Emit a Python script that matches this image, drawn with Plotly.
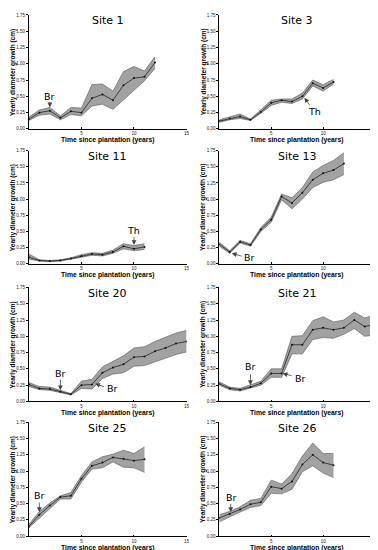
import plotly.graph_objects as go

# ---- data ----
site1_years = [0, 1, 2, 3, 4, 5, 6, 7, 8, 9, 10, 11, 12]
site1_mean = [0.15, 0.25, 0.28, 0.17, 0.27, 0.25, 0.47, 0.53, 0.44, 0.67, 0.78, 0.80, 1.02]
site1_low = [0.13, 0.21, 0.23, 0.14, 0.22, 0.20, 0.35, 0.38, 0.30, 0.45, 0.60, 0.74, 0.93]
site1_high = [0.18, 0.29, 0.33, 0.20, 0.33, 0.32, 0.68, 0.69, 0.58, 0.88, 0.96, 0.89, 1.11]

site3_years = [0, 1, 2, 3, 4, 5, 6, 7, 8, 9, 10, 11]
site3_mean = [0.12, 0.16, 0.19, 0.14, 0.26, 0.40, 0.44, 0.42, 0.50, 0.70, 0.63, 0.72]
site3_low = [0.10, 0.14, 0.16, 0.13, 0.24, 0.36, 0.41, 0.39, 0.46, 0.66, 0.58, 0.69]
site3_high = [0.14, 0.19, 0.23, 0.15, 0.29, 0.44, 0.46, 0.46, 0.55, 0.75, 0.68, 0.76]

site11_years = [0, 1, 2, 3, 4, 5, 6, 7, 8, 9, 10, 11]
site11_mean = [0.10, 0.05, 0.04, 0.05, 0.08, 0.12, 0.15, 0.14, 0.18, 0.27, 0.23, 0.26]
site11_low = [0.07, 0.04, 0.03, 0.04, 0.07, 0.10, 0.13, 0.12, 0.16, 0.23, 0.20, 0.22]
site11_high = [0.15, 0.06, 0.05, 0.06, 0.09, 0.14, 0.17, 0.16, 0.21, 0.31, 0.28, 0.31]

site13_years = [0, 1, 2, 3, 4, 5, 6, 7, 8, 9, 10, 11, 12]
site13_mean = [0.30, 0.18, 0.34, 0.29, 0.53, 0.68, 1.04, 0.94, 1.10, 1.30, 1.40, 1.45, 1.55]
site13_low = [0.27, 0.16, 0.32, 0.27, 0.50, 0.64, 0.99, 0.85, 1.00, 1.18, 1.26, 1.30, 1.38]
site13_high = [0.33, 0.20, 0.36, 0.31, 0.56, 0.72, 1.08, 1.02, 1.18, 1.42, 1.52, 1.60, 1.72]

site20_years = [0, 1, 2, 3, 4, 5, 6, 7, 8, 9, 10, 11, 12, 13, 14, 15]
site20_mean = [0.26, 0.20, 0.19, 0.15, 0.11, 0.25, 0.26, 0.44, 0.52, 0.57, 0.68, 0.69, 0.77, 0.82, 0.89, 0.92]
site20_low = [0.23, 0.18, 0.17, 0.13, 0.10, 0.20, 0.19, 0.35, 0.42, 0.44, 0.54, 0.55, 0.61, 0.66, 0.72, 0.76]
site20_high = [0.29, 0.23, 0.22, 0.17, 0.12, 0.31, 0.34, 0.53, 0.62, 0.70, 0.82, 0.84, 0.92, 0.98, 1.05, 1.09]

site21_years = [0, 1, 2, 3, 4, 5, 6, 7, 8, 9, 10, 11, 12, 13, 14, 15]
site21_mean = [0.27, 0.20, 0.18, 0.22, 0.28, 0.43, 0.43, 0.87, 0.87, 1.10, 1.13, 1.10, 1.13, 1.25, 1.15, 1.18]
site21_low = [0.25, 0.18, 0.16, 0.20, 0.25, 0.37, 0.37, 0.73, 0.73, 0.95, 0.98, 0.97, 1.03, 1.12, 1.00, 1.02]
site21_high = [0.30, 0.22, 0.20, 0.25, 0.31, 0.50, 0.50, 1.00, 1.01, 1.24, 1.30, 1.22, 1.25, 1.37, 1.28, 1.33]

site25_years = [0, 1, 2, 3, 4, 5, 6, 7, 8, 9, 10, 11]
site25_mean = [0.15, 0.33, 0.47, 0.60, 0.62, 0.88, 1.08, 1.13, 1.21, 1.19, 1.16, 1.18]
site25_low = [0.13, 0.28, 0.43, 0.57, 0.57, 0.83, 1.03, 1.05, 1.14, 1.06, 1.05, 0.98]
site25_high = [0.18, 0.38, 0.51, 0.62, 0.67, 0.93, 1.14, 1.22, 1.26, 1.32, 1.27, 1.37]

site26_years = [0, 1, 2, 3, 4, 5, 6, 7, 8, 9, 10, 11]
site26_mean = [0.28, 0.34, 0.41, 0.49, 0.52, 0.76, 0.73, 0.84, 1.10, 1.25, 1.13, 1.09]
site26_low = [0.22, 0.30, 0.37, 0.44, 0.47, 0.66, 0.65, 0.72, 0.99, 1.08, 0.97, 0.90]
site26_high = [0.33, 0.38, 0.45, 0.55, 0.58, 0.86, 0.80, 0.96, 1.23, 1.43, 1.27, 1.27]

site_names = ["Site 1", "Site 3", "Site 11", "Site 13", "Site 20", "Site 21", "Site 25", "Site 26"]
x_ticks = [5, 10, 15]
y_ticks = [0, 0.25, 0.5, 0.75, 1.0, 1.25, 1.5, 1.75]
y_tick_labels = ["0.00", "0.25", "0.50", "0.75", "1.00", "1.25", "1.50", "1.75"]
x_title = "Time since plantation (years)"
y_title = "Yearly diameter growth (cm)"

# annotations: (label, tail_x, tail_y, head_x, head_y, text_x, text_y)
site1_notes = [("Br", 2.0, 0.43, 2.0, 0.33, 2.0, 0.50)]
site3_notes = [("Th", 8.8, 0.34, 8.2, 0.48, 9.2, 0.27)]
site11_notes = [("Th", 10.0, 0.44, 10.0, 0.29, 10.0, 0.52)]
site13_notes = [("Br", 2.3, 0.11, 1.2, 0.16, 2.9, 0.09)]
site20_notes = [("Br", 3.0, 0.36, 3.0, 0.17, 3.0, 0.43),
                ("Br", 7.3, 0.22, 6.3, 0.27, 8.0, 0.20)]
site21_notes = [("Br", 3.0, 0.44, 3.0, 0.25, 3.0, 0.53),
                ("Br", 7.1, 0.39, 6.1, 0.43, 7.8, 0.35)]
site25_notes = [("Br", 1.0, 0.54, 1.0, 0.37, 1.05, 0.63)]
site26_notes = [("Br", 1.1, 0.52, 1.1, 0.37, 1.2, 0.60)]

sites = [
    (site1_years, site1_mean, site1_low, site1_high, site1_notes),
    (site3_years, site3_mean, site3_low, site3_high, site3_notes),
    (site11_years, site11_mean, site11_low, site11_high, site11_notes),
    (site13_years, site13_mean, site13_low, site13_high, site13_notes),
    (site20_years, site20_mean, site20_low, site20_high, site20_notes),
    (site21_years, site21_mean, site21_low, site21_high, site21_notes),
    (site25_years, site25_mean, site25_low, site25_high, site25_notes),
    (site26_years, site26_mean, site26_low, site26_high, site26_notes),
]

W, H = 378, 550
col_x = [(21, 180), (213, 370)]
row_y = [(5, 120), (142, 256), (280, 395), (416, 531)]

fig = go.Figure()
annotations = []
layout = {}

for i, (yrs, mean, low, high, notes) in enumerate(sites):
    r, c = divmod(i, 2)
    n = i + 1
    xa = "x" if n == 1 else f"x{n}"
    ya = "y" if n == 1 else f"y{n}"
    xk = "xaxis" if n == 1 else f"xaxis{n}"
    yk = "yaxis" if n == 1 else f"yaxis{n}"
    x0, x1 = col_x[c]
    top, bot = row_y[r]
    # band
    fig.add_trace(go.Scatter(x=yrs, y=low, mode="lines", line=dict(color="#555555", width=0.6),
                             xaxis=xa, yaxis=ya, showlegend=False, hoverinfo="skip"))
    fig.add_trace(go.Scatter(x=yrs, y=high, mode="lines", line=dict(color="#555555", width=0.6),
                             fill="tonexty", fillcolor="#a2a2a2",
                             xaxis=xa, yaxis=ya, showlegend=False, hoverinfo="skip"))
    fig.add_trace(go.Scatter(x=yrs, y=mean, mode="lines+markers",
                             line=dict(color="#111111", width=0.7),
                             marker=dict(color="#111111", size=2),
                             xaxis=xa, yaxis=ya, showlegend=False))
    layout[xk] = dict(domain=[x0 / W, x1 / W], anchor=ya, range=[0, 15],
                      tickvals=x_ticks, ticktext=[str(v) for v in x_ticks],
                      ticks="inside", ticklen=1.5, tickwidth=0.8, tickcolor="black",
                      showline=True, linecolor="black", linewidth=1,
                      showgrid=False, zeroline=False,
                      tickfont=dict(size=4.5, family="Liberation Sans", color="#222"))
    layout[yk] = dict(domain=[1 - bot / H, 1 - top / H], anchor=xa, range=[0, 1.75],
                      tickvals=y_ticks, ticktext=y_tick_labels,
                      ticks="outside", ticklen=2, tickwidth=0.8, tickcolor="black",
                      showline=True, linecolor="black", linewidth=1,
                      showgrid=False, zeroline=False,
                      tickfont=dict(size=4.5, family="Liberation Sans", color="#222"))
    # axis titles as annotations
    annotations.append(dict(text=f"<b>{x_title}</b>", xref="paper", yref="paper",
                            x=(x0 + x1) / 2 / W, y=1 - (bot + 11.5) / H,
                            xanchor="center", yanchor="middle", showarrow=False, borderpad=0,
                            font=dict(size=6.8, family="Liberation Sans", color="black")))
    annotations.append(dict(text=f"<b>{y_title}</b>", xref="paper", yref="paper",
                            x=(x0 - 16) / W, y=1 - (top + bot) / 2 / H, textangle=-90,
                            xanchor="center", yanchor="middle", showarrow=False, borderpad=0,
                            font=dict(size=6.5, family="Liberation Sans", color="black")))
    annotations.append(dict(text=site_names[i], xref="paper", yref="paper",
                            x=(x0 + x1) / 2 / W, y=1 - (top + 6) / H,
                            xanchor="center", yanchor="middle", showarrow=False,
                            font=dict(size=11, family="DejaVu Sans", color="black")))
    for (lab, tx, ty, hx, hy, lx, ly) in notes:
        annotations.append(dict(x=hx, y=hy, ax=tx, ay=ty, xref=xa, yref=ya, axref=xa, ayref=ya,
                                text="", showarrow=True, arrowhead=2, arrowsize=1.2,
                                arrowwidth=0.8, arrowcolor="#444444"))
        annotations.append(dict(x=lx, y=ly, xref=xa, yref=ya, text=lab, showarrow=False,
                                xanchor="center", yanchor="middle",
                                font=dict(size=9.5, family="DejaVu Sans", color="black")))

fig.update_layout(width=W, height=H, margin=dict(l=0, r=0, t=0, b=0),
                  paper_bgcolor="white", plot_bgcolor="white",
                  annotations=annotations, **layout)

fig.write_html("out.html")
